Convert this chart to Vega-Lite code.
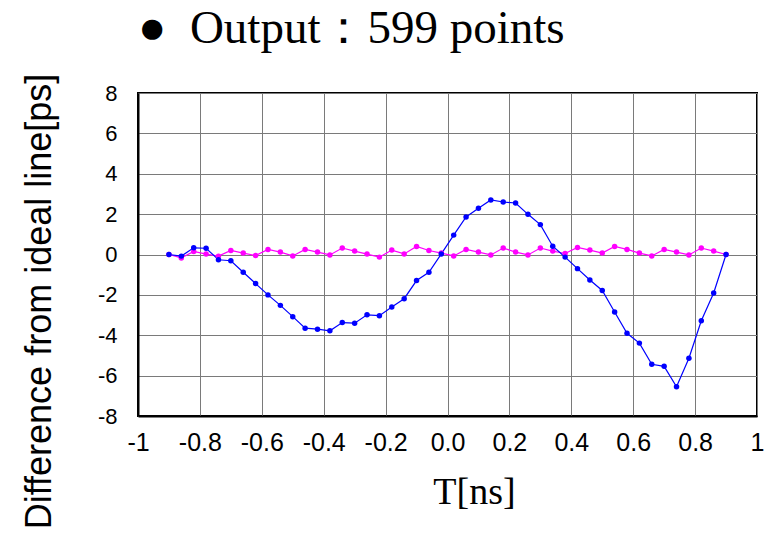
{
  "$schema": "https://vega.github.io/schema/vega-lite/v6.json",
  "width": 619,
  "height": 323,
  "autosize": {"type": "none"},
  "padding": {"left": 138, "top": 93, "right": 7, "bottom": 118},
  "background": "white",
  "title": {
    "text": "●\u00a0\u00a0Output：599 points",
    "font": "Liberation Serif",
    "fontSize": 47,
    "fontWeight": "normal",
    "color": "black",
    "anchor": "start",
    "frame": "group",
    "offset": 20
  },
  "data": {
    "values": [
      {"T": -0.90, "v": 0.0, "s": "m"},
      {"T": -0.86, "v": -0.17, "s": "m"},
      {"T": -0.82, "v": 0.15, "s": "m"},
      {"T": -0.78, "v": 0.02, "s": "m"},
      {"T": -0.74, "v": -0.08, "s": "m"},
      {"T": -0.70, "v": 0.20, "s": "m"},
      {"T": -0.66, "v": 0.07, "s": "m"},
      {"T": -0.62, "v": -0.05, "s": "m"},
      {"T": -0.58, "v": 0.25, "s": "m"},
      {"T": -0.54, "v": 0.12, "s": "m"},
      {"T": -0.50, "v": -0.07, "s": "m"},
      {"T": -0.46, "v": 0.25, "s": "m"},
      {"T": -0.42, "v": 0.12, "s": "m"},
      {"T": -0.38, "v": -0.02, "s": "m"},
      {"T": -0.34, "v": 0.32, "s": "m"},
      {"T": -0.30, "v": 0.17, "s": "m"},
      {"T": -0.26, "v": 0.02, "s": "m"},
      {"T": -0.22, "v": -0.13, "s": "m"},
      {"T": -0.18, "v": 0.22, "s": "m"},
      {"T": -0.14, "v": 0.03, "s": "m"},
      {"T": -0.10, "v": 0.40, "s": "m"},
      {"T": -0.06, "v": 0.20, "s": "m"},
      {"T": -0.02, "v": 0.07, "s": "m"},
      {"T": 0.02, "v": -0.07, "s": "m"},
      {"T": 0.06, "v": 0.25, "s": "m"},
      {"T": 0.10, "v": 0.12, "s": "m"},
      {"T": 0.14, "v": -0.02, "s": "m"},
      {"T": 0.18, "v": 0.32, "s": "m"},
      {"T": 0.22, "v": 0.12, "s": "m"},
      {"T": 0.26, "v": -0.02, "s": "m"},
      {"T": 0.30, "v": 0.32, "s": "m"},
      {"T": 0.34, "v": 0.17, "s": "m"},
      {"T": 0.38, "v": 0.05, "s": "m"},
      {"T": 0.42, "v": 0.35, "s": "m"},
      {"T": 0.46, "v": 0.22, "s": "m"},
      {"T": 0.50, "v": 0.07, "s": "m"},
      {"T": 0.54, "v": 0.40, "s": "m"},
      {"T": 0.58, "v": 0.25, "s": "m"},
      {"T": 0.62, "v": 0.07, "s": "m"},
      {"T": 0.66, "v": -0.07, "s": "m"},
      {"T": 0.70, "v": 0.25, "s": "m"},
      {"T": 0.74, "v": 0.12, "s": "m"},
      {"T": 0.78, "v": -0.02, "s": "m"},
      {"T": 0.82, "v": 0.32, "s": "m"},
      {"T": 0.86, "v": 0.17, "s": "m"},
      {"T": 0.90, "v": 0.0, "s": "m"},
      {"T": -0.90, "v": 0.0, "s": "b"},
      {"T": -0.86, "v": -0.08, "s": "b"},
      {"T": -0.82, "v": 0.33, "s": "b"},
      {"T": -0.78, "v": 0.31, "s": "b"},
      {"T": -0.74, "v": -0.26, "s": "b"},
      {"T": -0.70, "v": -0.31, "s": "b"},
      {"T": -0.66, "v": -0.88, "s": "b"},
      {"T": -0.62, "v": -1.44, "s": "b"},
      {"T": -0.58, "v": -2.0, "s": "b"},
      {"T": -0.54, "v": -2.52, "s": "b"},
      {"T": -0.50, "v": -3.08, "s": "b"},
      {"T": -0.46, "v": -3.65, "s": "b"},
      {"T": -0.42, "v": -3.70, "s": "b"},
      {"T": -0.38, "v": -3.78, "s": "b"},
      {"T": -0.34, "v": -3.37, "s": "b"},
      {"T": -0.30, "v": -3.40, "s": "b"},
      {"T": -0.26, "v": -2.99, "s": "b"},
      {"T": -0.22, "v": -3.03, "s": "b"},
      {"T": -0.18, "v": -2.60, "s": "b"},
      {"T": -0.14, "v": -2.19, "s": "b"},
      {"T": -0.10, "v": -1.29, "s": "b"},
      {"T": -0.06, "v": -0.88, "s": "b"},
      {"T": -0.02, "v": 0.03, "s": "b"},
      {"T": 0.02, "v": 0.96, "s": "b"},
      {"T": 0.06, "v": 1.86, "s": "b"},
      {"T": 0.10, "v": 2.29, "s": "b"},
      {"T": 0.14, "v": 2.70, "s": "b"},
      {"T": 0.18, "v": 2.60, "s": "b"},
      {"T": 0.22, "v": 2.55, "s": "b"},
      {"T": 0.26, "v": 1.99, "s": "b"},
      {"T": 0.30, "v": 1.48, "s": "b"},
      {"T": 0.34, "v": 0.41, "s": "b"},
      {"T": 0.38, "v": -0.13, "s": "b"},
      {"T": 0.42, "v": -0.70, "s": "b"},
      {"T": 0.46, "v": -1.26, "s": "b"},
      {"T": 0.50, "v": -1.78, "s": "b"},
      {"T": 0.54, "v": -2.85, "s": "b"},
      {"T": 0.58, "v": -3.90, "s": "b"},
      {"T": 0.62, "v": -4.39, "s": "b"},
      {"T": 0.66, "v": -5.44, "s": "b"},
      {"T": 0.70, "v": -5.54, "s": "b"},
      {"T": 0.74, "v": -6.55, "s": "b"},
      {"T": 0.78, "v": -5.14, "s": "b"},
      {"T": 0.82, "v": -3.28, "s": "b"},
      {"T": 0.86, "v": -1.91, "s": "b"},
      {"T": 0.90, "v": 0.0, "s": "b"}
    ]
  },
  "mark": {
    "type": "line",
    "strokeWidth": 1.2,
    "point": {"filled": true, "size": 30, "opacity": 1}
  },
  "encoding": {
    "x": {
      "field": "T",
      "type": "quantitative",
      "scale": {"domain": [-1, 1], "nice": false, "zero": false},
      "axis": {
        "values": [-1, -0.8, -0.6, -0.4, -0.2, 0, 0.2, 0.4, 0.6, 0.8, 1],
        "labelExpr": "datum.value <= -0.99 ? '-1' : datum.value >= 0.99 ? '1' : replace(format(datum.value, '.1f'), '\u2212', '-')",
        "grid": true,
        "gridColor": "#7a7a7a",
        "gridWidth": 1,
        "gridOpacity": 1,
        "ticks": false,
        "domainColor": "black",
        "domainWidth": 2,
        "labelFont": "Liberation Sans",
        "labelFontSize": 25,
        "labelColor": "black",
        "labelPadding": 14,
        "labelFlush": false,
        "labelOverlap": false,
        "title": "T[ns]",
        "titleFont": "Liberation Serif",
        "titleFontSize": 38,
        "titleFontWeight": "normal",
        "titleColor": "black",
        "titleX": 336,
        "titleY": 87,
        "titleAlign": "center",
        "titleBaseline": "alphabetic"
      }
    },
    "y": {
      "field": "v",
      "type": "quantitative",
      "scale": {"domain": [-8, 8], "nice": false, "zero": false},
      "axis": {
        "values": [-8, -6, -4, -2, 0, 2, 4, 6, 8],
        "labelExpr": "replace(format(datum.value, 'd'), '\u2212', '-')",
        "grid": true,
        "gridColor": "#7a7a7a",
        "gridWidth": 1,
        "gridOpacity": 1,
        "ticks": false,
        "domainColor": "black",
        "domainWidth": 2,
        "labelFont": "Liberation Sans",
        "labelFontSize": 22,
        "labelColor": "black",
        "labelPadding": 21,
        "labelFlush": false,
        "labelOverlap": false,
        "title": "Difference from ideal line[ps]",
        "titleFont": "Liberation Sans",
        "titleFontSize": 36,
        "titleFontWeight": "normal",
        "titleColor": "black",
        "titleX": -88,
        "titleY": 208,
        "titleAlign": "center",
        "titleBaseline": "alphabetic",
        "titleAngle": -90
      }
    },
    "color": {
      "field": "s",
      "type": "nominal",
      "scale": {"domain": ["m", "b"], "range": ["#ff00ff", "#0000ff"]},
      "legend": null
    },
    "order": {"field": "T", "type": "quantitative"}
  },
  "config": {
    "view": {"stroke": "black", "strokeWidth": 2}
  }
}
